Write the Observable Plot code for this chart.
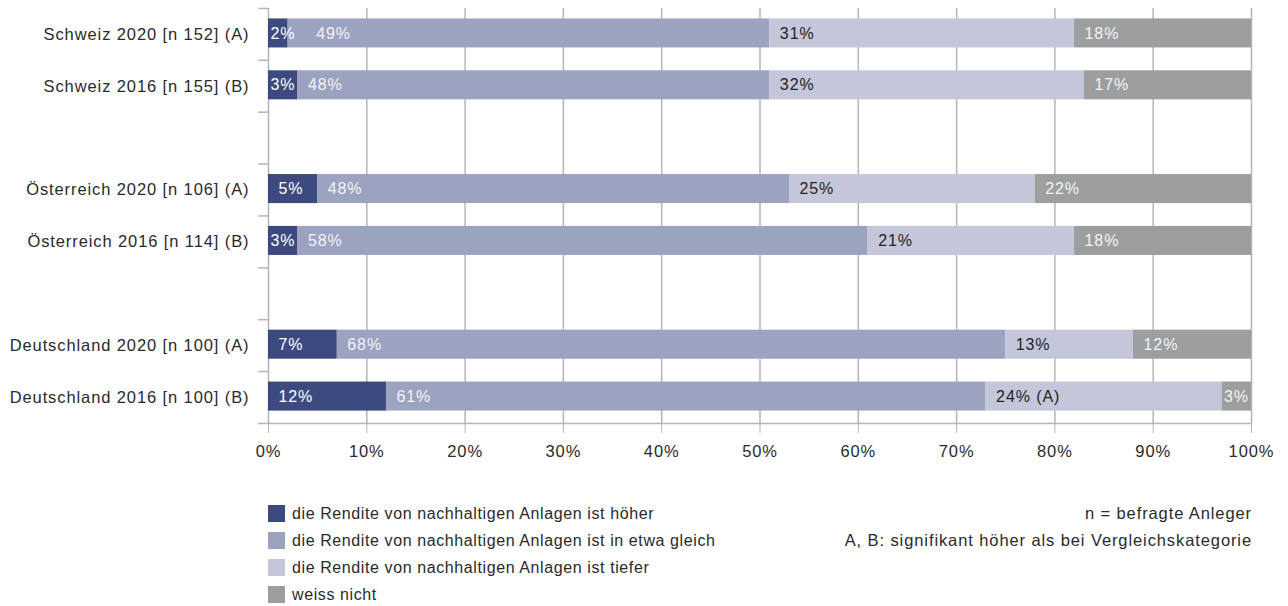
<!DOCTYPE html>
<html><head><meta charset="utf-8">
<script src="https://cdn.jsdelivr.net/npm/d3@7"></script>
<script src="https://cdn.jsdelivr.net/npm/@observablehq/plot@0.6"></script>
<style>
body{margin:0;background:#fff;font-family:"Liberation Sans",Arial,sans-serif;color:#2a2a2a}
#wrap{position:relative;width:1288px;height:606px}
#chart svg text{letter-spacing:0.9px}
#chart [aria-label^="x-axis"] text, #chart [aria-label^="y-axis"] text{fill:#2a2a2a}
.legend{position:absolute;left:268px;top:500px;font-size:16px;letter-spacing:0.6px}
.legend div{display:flex;align-items:center;height:27px}
.sw{width:17px;height:17px;margin-right:7px;flex:none}
.notes{position:absolute;right:36px;top:500px;text-align:right;font-size:16.5px;letter-spacing:0.9px}
.notes div{height:27px;line-height:27px}
</style></head><body>
<div id="wrap"><div id="chart"></div><div class="legend" id="legend"></div>
<div class="notes"><div>n = befragte Anleger</div><div>A, B: signifikant höher als bei Vergleichskategorie</div></div></div>
<script>
// y rows (blank rows separate the country groups)
const rows = [
  "Schweiz 2020 [n 152] (A)", "Schweiz 2016 [n 155] (B)", " ",
  "Österreich 2020 [n 106] (A)", "Österreich 2016 [n 114] (B)", "  ",
  "Deutschland 2020 [n 100] (A)", "Deutschland 2016 [n 100] (B)"
];
const barRows = [
  "Schweiz 2020 [n 152] (A)", "Schweiz 2016 [n 155] (B)",
  "Österreich 2020 [n 106] (A)", "Österreich 2016 [n 114] (B)",
  "Deutschland 2020 [n 100] (A)", "Deutschland 2016 [n 100] (B)"
];
const categories = [
  "die Rendite von nachhaltigen Anlagen ist höher",
  "die Rendite von nachhaltigen Anlagen ist in etwa gleich",
  "die Rendite von nachhaltigen Anlagen ist tiefer",
  "weiss nicht"
];
const higher  = [2, 3, 5, 3, 7, 12];
const same    = [49, 48, 48, 58, 68, 61];
const lower   = [31, 32, 25, 21, 13, 24];
const unknown = [18, 17, 22, 18, 12, 3];
const lowerSuffix = ["", "", "", "", "", " (A)"];
const xTicks = [0, 10, 20, 30, 40, 50, 60, 70, 80, 90, 100];

const colors = ["#3d4a80", "#9ca3c1", "#c4c7d9", "#9d9e9f"];
const textColors = ["#ffffff", "#f4f4f6", "#222222", "#f4f4f4"];

const series = [higher, same, lower, unknown];
const data = [];
barRows.forEach((label, i) => {
  let start = 0, prev = null;
  series.forEach((s, j) => {
    const v = s[i];
    // label placement class: narrow segment, after an overflowing label, or normal
    const kind = v < 5 ? "narrow" : (prev !== null && prev < 2.5 ? "pushed" : "normal");
    data.push({label, cat: categories[j], ci: j, value: v, start, kind,
      text: v + "%" + (j === 2 ? lowerSuffix[i] : "")});
    start += v; prev = v;
  });
});

const dxByKind = {narrow: 2, normal: 10, pushed: 28};
const labelMarks = [];
categories.forEach((c, j) => {
  Object.keys(dxByKind).forEach(k => {
    labelMarks.push(Plot.text(data.filter(d => d.ci === j && d.kind === k), {
      x: "start", y: "label", text: "text", dx: dxByKind[k], dy: -1, textAnchor: "start",
      fill: textColors[j], fontSize: 16
    }));
  });
});

const chart = Plot.plot({
  width: 1288, height: 470,
  marginLeft: 268, marginRight: 37, marginTop: 8, marginBottom: 47,
  style: {fontFamily: "Liberation Sans, Arial, sans-serif", fontSize: "16.5px", color: "#b5b5b5", background: "#fff"},
  x: {domain: [0, 100], ticks: xTicks, tickFormat: d => d + "%", tickSize: 10, tickPadding: 12, label: null},
  y: {domain: rows, paddingInner: 0.44, paddingOuter: 0.22, round: false, tickSize: 0, tickPadding: 19, label: null},
  color: {domain: categories, range: colors},
  marks: [
    Plot.ruleX(xTicks, {stroke: "#b5b5b5", strokeWidth: 1.5}),
    Plot.barX(data, {x1: "start", x2: d => d.start + d.value, y: "label", fill: "cat", dy: -1}),
    Plot.ruleY(rows, {y: d => d, x1: -1, x2: 0, dy: -26, stroke: "#b5b5b5", strokeWidth: 1.5}),
    Plot.ruleY(rows.slice(-1), {y: d => d, x1: -1, x2: 100, dy: 26, stroke: "#b5b5b5", strokeWidth: 1.5}),
    ...labelMarks
  ]
});
document.getElementById("chart").appendChild(chart);

const leg = document.getElementById("legend");
categories.forEach((c, j) => {
  const row = document.createElement("div");
  const sw = document.createElement("span");
  sw.className = "sw"; sw.style.background = colors[j];
  row.appendChild(sw);
  row.appendChild(document.createTextNode(c));
  leg.appendChild(row);
});
</script>
</body></html>
